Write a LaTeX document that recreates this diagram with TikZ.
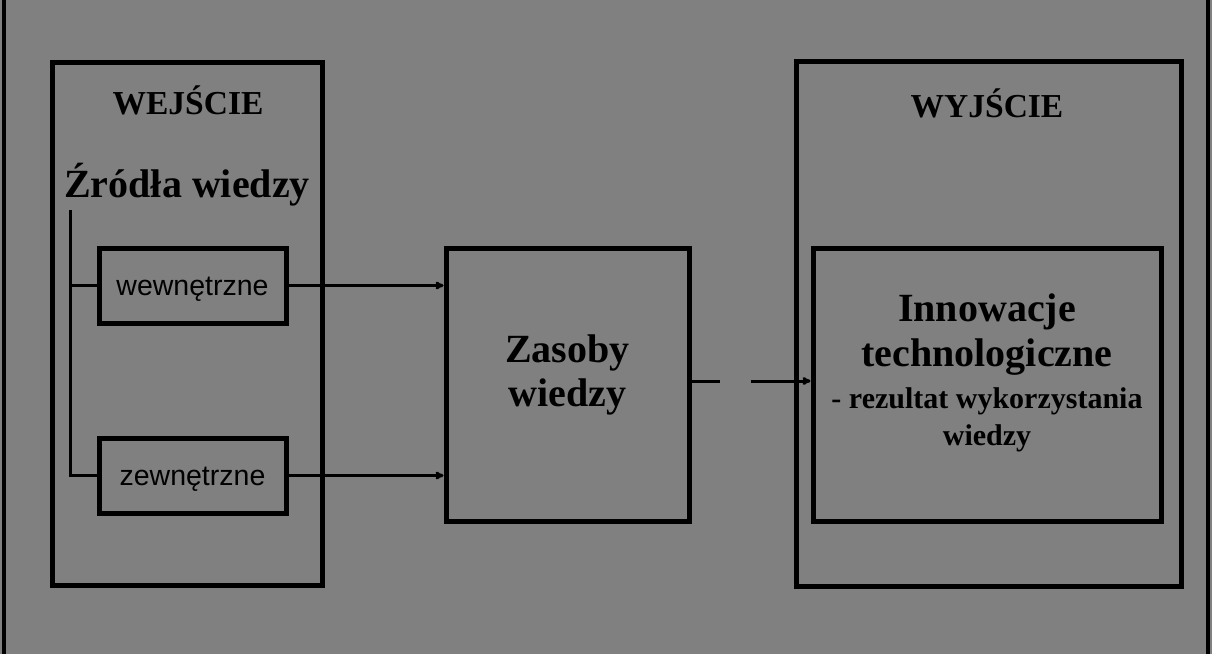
\documentclass[tikz,border=0pt]{standalone}
\usepackage{fontspec}
\setmainfont{Liberation Serif}
\newfontfamily\sansfont{Liberation Sans}
\usepackage{tikz}
\usetikzlibrary{arrows.meta}

\begin{document}
\begin{tikzpicture}[x=1pt,y=-1pt]
		\fill[gray] (0,0) rectangle (1212,654);
		\useasboundingbox (0,0) rectangle (1212,654);
		\draw[line width=4pt] (4,0) -- (4,654);
		\draw[line width=4pt] (1208,0) -- (1208,654);

		\begin{scope}[every node/.style={rectangle,draw,line width=5pt,inner sep=0pt}]
			\node[minimum width=270pt,minimum height=523pt] (wej) at (187,323.5) {};
			\node[minimum width=385pt,minimum height=525pt] (wyj) at (988.5,323.5) {};
			\node[minimum width=187pt,minimum height=75pt,text height=19pt,text depth=0pt,font=\sansfont\fontsize{28.5}{30}\selectfont] (wew) at (192.5,285.5) {wewnętrzne};
			\node[minimum width=187pt,minimum height=75pt,text height=19pt,text depth=0pt,font=\sansfont\fontsize{28.5}{30}\selectfont] (zew) at (192.5,475.5) {zewnętrzne};
			\node[minimum width=243pt,minimum height=273pt] (zas) at (567.5,384.5) {};
			\node[minimum width=348pt,minimum height=273pt] (inn) at (987,384.5) {};
		\end{scope}

		\begin{scope}[every node/.style={align=center,inner sep=0pt}]
			\node[font=\bfseries\fontsize{33.5}{36}\selectfont] (wejt) at (188,100) {WEJŚCIE};
			\node[font=\bfseries\fontsize{33.5}{36}\selectfont] (wyjt) at (987,103) {WYJŚCIE};
			\node[font=\bfseries\fontsize{40}{44}\selectfont] (zrodla) at (187,185) {Źródła wiedzy};
			\node[font=\bfseries\fontsize{40}{44}\selectfont] (zast) at (567.5,375) {Zasoby\\wiedzy};
			\node[font=\bfseries\fontsize{40}{45}\selectfont] (innt) at (987,335) {Innowacje\\technologiczne};
			\node[font=\bfseries\fontsize{30}{37}\selectfont] (rez) at (987,420) {- rezultat wykorzystania\\wiedzy};
		\end{scope}

		\coordinate (top) at (70,210);
		\begin{scope}[>={To[length=8pt,width=8pt]},line width=3pt]
			\draw (top) |- (zew.west);
			\draw (top |- wew.west) -- (wew.west);
			\draw[->] (wew.east) -- (zas.west |- wew.east);
			\draw[->] (zew.east) -- (zas.west |- zew.east);
			\draw[->,dash pattern=on 28pt off 31pt on 60pt off 0pt] ([yshift=3.5pt]zas.east) -- ([yshift=3.5pt]inn.west);
		\end{scope}
\end{tikzpicture}
\end{document}
